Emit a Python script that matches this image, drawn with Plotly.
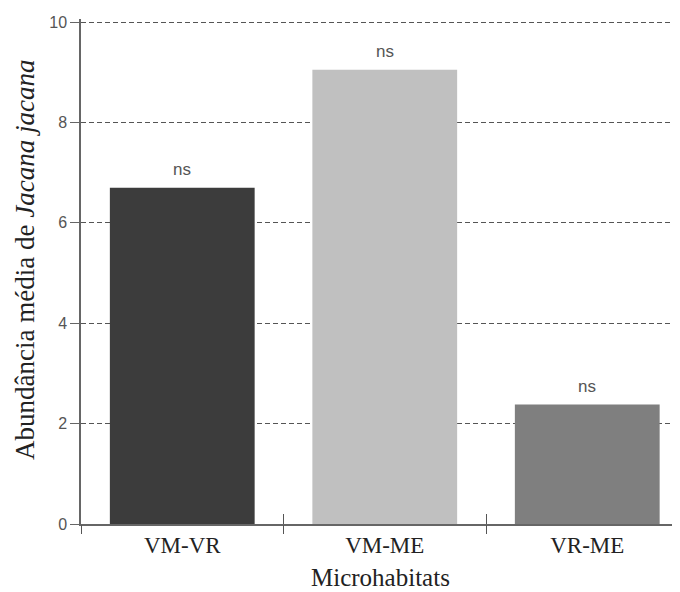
import plotly.graph_objects as go

categories = ["VM-VR", "VM-ME", "VR-ME"]
values = [6.70, 9.05, 2.38]
labels = ["ns", "ns", "ns"]
colors = ["#3c3c3c", "#c0c0c0", "#7f7f7f"]
y_ticks = [0, 2, 4, 6, 8, 10]

fig = go.Figure()
fig.add_trace(go.Bar(x=categories, y=values, marker=dict(color=colors, line=dict(width=0)),
                     width=0.715, showlegend=False, hoverinfo="skip"))
# invisible copies so the overlay axes that draw the boundary ticks get categories
for ax in ["x2", "x3"]:
    fig.add_trace(go.Bar(x=categories, y=values, xaxis=ax, opacity=0, width=0.715,
                         showlegend=False, hoverinfo="skip"))

for c, v, t in zip(categories, values, labels):
    fig.add_annotation(x=c, y=v, text=t, showarrow=False, yanchor="bottom", yshift=7,
                       font=dict(family="Liberation Sans, Arial", size=17, color="#555555"))

serif = "Liberation Serif, Times New Roman"
fig.add_annotation(xref="paper", yref="paper", x=-0.0935, y=0.5228, textangle=-90,
                   text="Abundância média de <i>Jacana jacana</i>", showarrow=False,
                   xanchor="center", yanchor="middle",
                   font=dict(family=serif, size=27, color="#222222"))
fig.add_annotation(xref="paper", yref="paper", x=0.5, y=-0.1069,
                   text="Microhabitats", showarrow=False, xanchor="center", yanchor="middle",
                   font=dict(family=serif, size=25, color="#222222"))

xr = [-0.5, 2.458]
common2 = dict(type="category", overlaying="x", anchor="y", side="bottom", range=xr,
               tickson="boundaries", tickwidth=1.2, tickcolor="#555555",
               showticklabels=False, showgrid=False, showline=False, zeroline=False,
               automargin=False)

# the page body adds an 8px margin, so the figure is 8px smaller than the window
fig.update_layout(
    width=672, height=584,
    margin=dict(l=73, r=0, t=11, b=68),
    paper_bgcolor="white", plot_bgcolor="white",
    barmode="overlay",
    xaxis=dict(type="category", range=xr, showline=True, linecolor="#666666", linewidth=1.5,
               ticks="", showgrid=False, automargin=False,
               tickfont=dict(family=serif, size=23, color="#222222")),
    xaxis2=dict(ticks="outside", ticklen=9, **common2),
    xaxis3=dict(ticks="inside", ticklen=10, **common2),
    yaxis=dict(range=[0, 10.06], tickvals=y_ticks, showline=True, linecolor="#666666", linewidth=1.5,
               ticks="outside", ticklen=9, tickcolor="#666666", tickwidth=1.2,
               showgrid=True, gridcolor="#555555", gridwidth=1, griddash="5px,3px",
               zeroline=False, automargin=False,
               tickfont=dict(family="Liberation Sans, Arial", size=16, color="#555555")),
)

fig.write_html("out.html")
